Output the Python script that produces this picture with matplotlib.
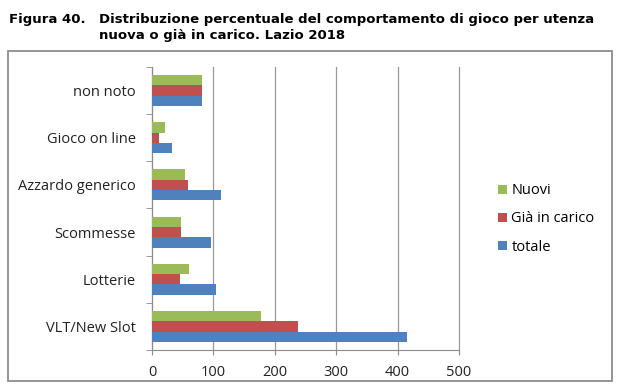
import matplotlib.pyplot as plt
import numpy as np
from matplotlib.patches import Rectangle

# Data
categories = ["VLT/New Slot", "Lotterie", "Scommesse", "Azzardo generico", "Gioco on line", "non noto"]
totale = [415, 105, 96, 113, 33, 82]
gia_in_carico = [237, 45, 47, 59, 12, 82]
nuovi = [177, 61, 47, 54, 21, 82]

plt.rcParams['font.family'] = ['Open Sans', 'DejaVu Sans']

fig = plt.figure(figsize=(6.21, 3.91), dpi=100)

# Title (two lines, bold)
fig.text(9 / 621, 1 - 19 / 391, "Figura 40.", fontsize=9.5, fontweight="bold",
         family="DejaVu Sans", va="center", ha="left")
fig.text(99 / 621, 1 - 19 / 391, "Distribuzione percentuale del comportamento di gioco per utenza",
         fontsize=9.5, fontweight="bold", family="DejaVu Sans", va="center", ha="left")
fig.text(99 / 621, 1 - 35 / 391, "nuova o già in carico. Lazio 2018",
         fontsize=9.5, fontweight="bold", family="DejaVu Sans", va="center", ha="left")

# chart frame
fig.patches.append(Rectangle((8 / 621, 1 - 381 / 391), 604 / 621, 330 / 391,
                             transform=fig.transFigure, fill=False,
                             edgecolor="#8c8c8c", linewidth=1.3))

ax = fig.add_axes([152 / 621, 1 - 350 / 391, 307 / 621, 283 / 391])

y = np.arange(len(categories))
h = 0.22
ax.barh(y - h, totale, height=h, color="#4F81BD", label="totale", zorder=3)
ax.barh(y, gia_in_carico, height=h, color="#C0504D", label="Già in carico", zorder=3)
ax.barh(y + h, nuovi, height=h, color="#9BBB59", label="Nuovi", zorder=3)

ax.set_xlim(0, 500)
ax.set_ylim(-0.5, len(categories) - 0.5)
ax.set_xticks(range(0, 501, 100))
ax.xaxis.grid(True, color="#999999", linewidth=0.9, zorder=0)
for gl in ax.get_xgridlines():
    gl.set_clip_on(False)
ax.tick_params(axis="x", length=3.5, color="#8c8c8c", labelsize=10.5, pad=7, colors="#222222")
ax.tick_params(axis="x", color="#8c8c8c")

ax.set_yticks(y)
ax.set_yticklabels(categories, fontsize=10.5, color="#222222")
ax.tick_params(axis="y", length=0, pad=11.5)
ax.set_yticks(np.arange(-0.5, len(categories), 1), minor=True)
ax.tick_params(axis="y", which="minor", length=4, color="#8c8c8c")

for s in ["top", "right"]:
    ax.spines[s].set_visible(False)
for s in ["left", "bottom"]:
    ax.spines[s].set_color("#8c8c8c")

handles, labels = ax.get_legend_handles_labels()
fig.legend(handles[::-1], labels[::-1], loc="center left",
           bbox_to_anchor=(485 / 621, 1 - 219 / 391), frameon=False,
           fontsize=10.5, handlelength=0.6, handleheight=0.6, handletextpad=0.3,
           labelspacing=0.9)

fig.savefig("out.png", dpi=100)
